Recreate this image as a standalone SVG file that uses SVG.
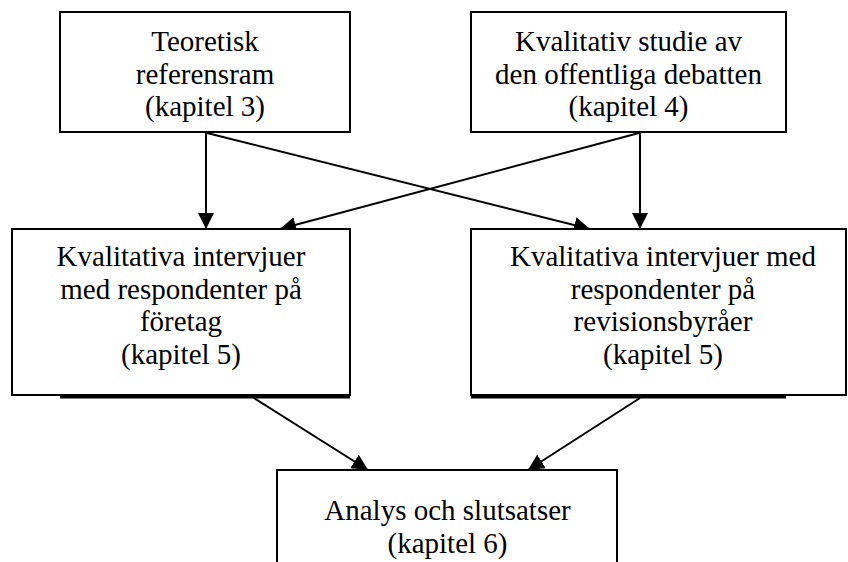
<svg xmlns="http://www.w3.org/2000/svg" width="848" height="562" viewBox="0 0 848 562">
<style>
.box{fill:#fff;stroke:#000;stroke-width:2}
.sh{fill:#000}
.t{font-family:"Liberation Serif","Tinos","Times New Roman",Times,"DejaVu Serif",serif;font-size:29px;fill:#000;text-anchor:middle}
.c{stroke:#000;stroke-width:2;fill:none;marker-end:url(#ah)}
</style>
<defs>
<marker id="ah" markerWidth="18" markerHeight="16" refX="16" refY="8" orient="auto" markerUnits="userSpaceOnUse">
<path d="M0,0 L16,8 L0,16 Z" fill="#000"/>
</marker>
</defs>
<rect width="848" height="562" fill="#fff"/>
<g id="connectors">
<line class="c" x1="206" y1="133" x2="206" y2="229"/>
<line class="c" x1="207" y1="133" x2="590" y2="229"/>
<line class="c" x1="640" y1="133" x2="640" y2="229"/>
<line class="c" x1="639" y1="133" x2="280" y2="229"/>
<line class="c" x1="254" y1="398" x2="368" y2="470"/>
<line class="c" x1="640" y1="398" x2="528" y2="470"/>
</g>
<g id="n1">
<rect class="box" x="60" y="12" width="290" height="120"/>
<text class="t" x="205" y="51">Teoretisk</text>
<text class="t" x="205" y="83.5">referensram</text>
<text class="t" x="205" y="116">(kapitel 3)</text>
</g>
<g id="n2">
<rect class="box" x="471" y="12" width="315" height="120"/>
<text class="t" x="628.5" y="51">Kvalitativ studie av</text>
<text class="t" x="628.5" y="83.5">den offentliga debatten</text>
<text class="t" x="628.5" y="116">(kapitel 4)</text>
</g>
<g id="n3">
<rect class="sh" x="60" y="395" width="290" height="3.5"/>
<rect class="box" x="12" y="229" width="338" height="166"/>
<text class="t" x="181" y="266">Kvalitativa intervjuer</text>
<text class="t" x="181" y="298.5">med respondenter på</text>
<text class="t" x="181" y="331">företag</text>
<text class="t" x="181" y="363.5">(kapitel 5)</text>
</g>
<g id="n4">
<rect class="sh" x="471" y="395" width="315" height="3.5"/>
<rect class="box" x="471" y="229" width="375" height="166"/>
<text class="t" x="663" y="266">Kvalitativa intervjuer med</text>
<text class="t" x="663" y="298.5">respondenter på</text>
<text class="t" x="663" y="331">revisionsbyråer</text>
<text class="t" x="663" y="363.5">(kapitel 5)</text>
</g>
<g id="n5">
<rect class="box" x="277" y="470" width="340" height="110"/>
<text class="t" x="447.5" y="520">Analys och slutsatser</text>
<text class="t" x="447.5" y="552.5">(kapitel 6)</text>
</g>
</svg>
